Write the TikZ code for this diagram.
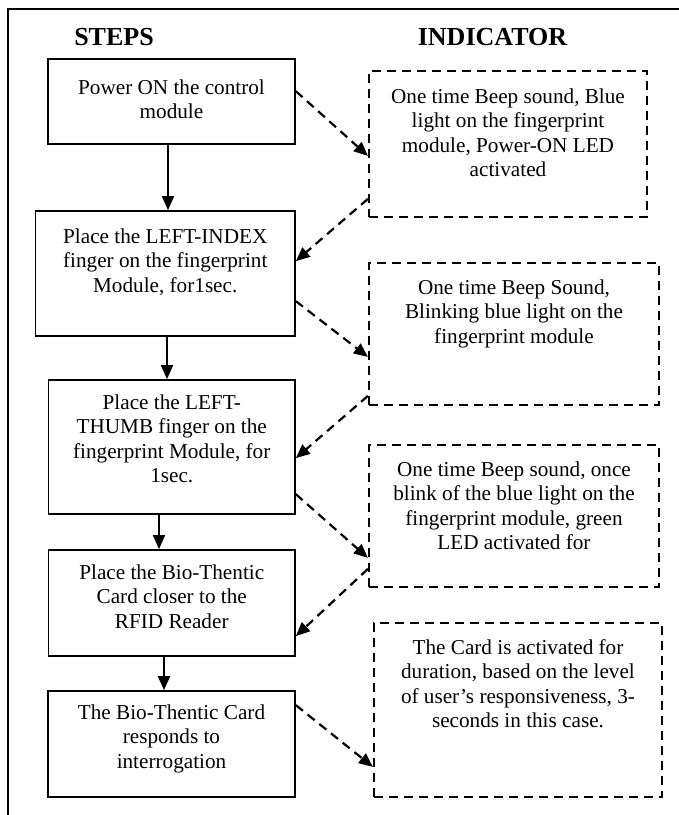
\documentclass[tikz,border=0pt]{standalone}
\usepackage{fontspec}
\setmainfont{Liberation Serif}
\usetikzlibrary{arrows.meta}
\begin{document}
\begin{tikzpicture}[x=1pt,y=-1pt,
  box/.style={draw, line width=1.7pt, inner sep=0pt},
  ind/.style={draw, line width=2.2pt, dash pattern=on 9pt off 6pt, inner sep=0pt},
  txt/.style={font=\fontsize{21.2}{24.4}\selectfont, align=center, anchor=north, inner sep=0pt},
  head/.style={font=\fontsize{26}{30}\selectfont\bfseries, anchor=base, inner sep=0pt},
  arr/.style={line width=1.7pt, -{Triangle[length=14pt,width=12pt]}},
  darr/.style={line width=2.2pt, dash pattern=on 9pt off 6pt, -{Triangle[length=14pt,width=12pt]}}]
\useasboundingbox (0,0) rectangle (679,815);
% frame
\draw[line width=1.7pt] (679,9) -- (8,9) -- (8,815);
% headings
\node[head] (hs) at (114,45) {STEPS};
\node[head] (hi) at (492.5,45) {INDICATOR};
% step boxes
\node[box, minimum width=247pt, minimum height=85pt] (b1) at (171.5,101.5) {};
\node[box, minimum width=259.5pt, minimum height=125pt] (b2) at (165.25,273.5) {};
\node[box, minimum width=246.5pt, minimum height=134pt] (b3) at (171.75,447) {};
\node[box, minimum width=246.5pt, minimum height=106pt] (b4) at (171.75,603) {};
\node[box, minimum width=247pt, minimum height=106pt] (b5) at (171.5,744) {};
% indicator boxes
\node[ind, minimum width=278pt, minimum height=146pt] (i1) at (508,144) {};
\node[ind, minimum width=290pt, minimum height=142pt] (i2) at (514,334) {};
\node[ind, minimum width=290pt, minimum height=142pt] (i3) at (514,516) {};
\node[ind, minimum width=288pt, minimum height=174pt] (i4) at (518,710) {};
% texts
\node[txt] (t1) at ([yshift=-21pt]b1.north) {Power ON the control\\module};
\node[txt] (t2) at ([yshift=-18.5pt]b2.north) {Place the LEFT-INDEX\\finger on the fingerprint\\Module, for1sec.};
\node[txt] (t3) at ([yshift=-15.5pt]b3.north) {Place the LEFT-\\THUMB finger on the\\fingerprint Module, for\\1sec.};
\node[txt] (t4) at ([yshift=-15.5pt]b4.north) {Place the Bio-Thentic\\Card closer to the\\RFID Reader};
\node[txt] (t5) at ([yshift=-14.5pt]b5.north) {The Bio-Thentic Card\\responds to\\interrogation};
\node[txt] (u1) at ([yshift=-18.5pt]i1.north) {One time Beep sound, Blue\\light on the fingerprint\\module, Power-ON LED\\activated};
\node[txt] (u2) at ([yshift=-17.5pt]i2.north) {One time Beep Sound,\\Blinking blue light on the\\fingerprint module};
\node[txt] (u3) at ([yshift=-17.5pt]i3.north) {One time Beep sound, once\\blink of the blue light on the\\fingerprint module, green\\LED activated for};
\node[txt] (u4) at ([yshift=-17.5pt]i4.north) {The Card is activated for\\duration, based on the level\\of user’s responsiveness, 3-\\seconds in this case.};
% solid arrows
\draw[arr] ([xshift=-3.5pt]b1.south) -- ([xshift=2.75pt]b2.north);
\draw[arr] ([xshift=1.75pt]b2.south) -- ([xshift=-4.75pt]b3.north);
\draw[arr] ([xshift=-12.75pt]b3.south) -- ([xshift=-12.75pt]b4.north);
\draw[arr] ([xshift=-7.75pt]b4.south) -- ([xshift=-7.5pt]b5.north);
% dashed arrows
\draw[darr] ([yshift=-33pt]b1.north east) -- ([yshift=-86pt]i1.north west);
\draw[darr] ([yshift=-129pt]i1.north west) -- ([yshift=-51pt]b2.north east);
\draw[darr] ([yshift=-91pt]b2.north east) -- ([yshift=-95pt]i2.north west);
\draw[darr] ([yshift=-134pt]i2.north west) -- ([yshift=-79pt]b3.north east);
\draw[darr] ([yshift=-115pt]b3.north east) -- ([yshift=-114pt]i3.north west);
\draw[darr] ([yshift=-125pt]i3.north west) -- ([yshift=-87pt]b4.north east);
\draw[darr] ([yshift=-15pt]b5.north east) -- ([yshift=-145pt]i4.north west);
\end{tikzpicture}
\end{document}
